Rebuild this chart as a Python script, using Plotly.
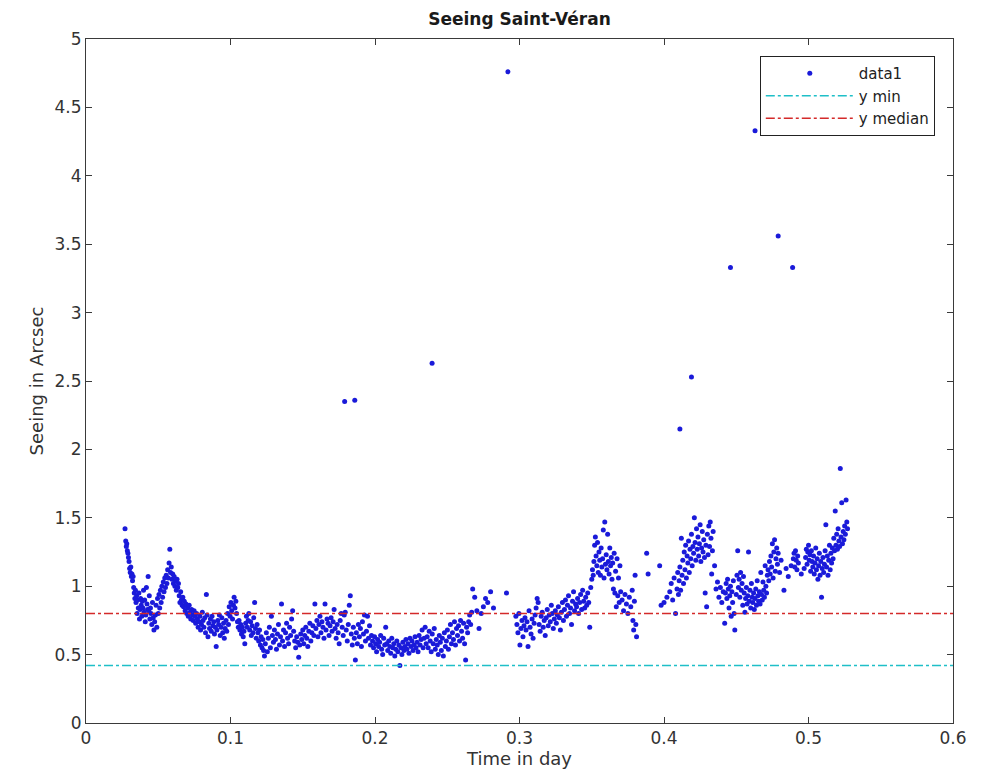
import plotly.graph_objects as go

# ---------------- data ----------------
time_a = [
    0.0270,0.0275,0.0279,0.0282,0.0286,0.0290,0.0294,0.0298,0.0302,0.0306,
    0.0310,0.0314,0.0318,0.0322,0.0326,0.0330,0.0334,0.0338,0.0342,0.0346,
    0.0350,0.0354,0.0358,0.0362,0.0366,0.0370,0.0374,0.0378,0.0382,0.0386,
    0.0390,0.0394,0.0398,0.0402,0.0406,0.0410,0.0414,0.0418,0.0422,0.0426,
    0.0430,0.0434,0.0438,0.0442,0.0446,0.0450,0.0455,0.0460,0.0465,0.0470,
    0.0475,0.0480,0.0485,0.0490,0.0495,0.0500,0.0505,0.0510,0.0515,0.0520,
    0.0525,0.0530,0.0535,0.0540,0.0545,0.0550,0.0555,0.0560,0.0565,0.0570,
    0.0575,0.0580,0.0585,0.0590,0.0595,0.0600,0.0605,0.0610,0.0615,0.0620,
    0.0625,0.0630,0.0635,0.0640,0.0645,0.0650,0.0655,0.0660,0.0665,0.0670,
]
seeing_a = [
    1.42,1.33,1.29,1.31,1.26,1.24,1.21,1.18,1.13,1.10,
    1.14,1.07,1.09,1.04,1.07,0.99,0.95,0.91,0.97,0.88,
    0.93,0.80,0.90,0.84,0.95,0.76,0.83,0.91,0.86,0.78,
    0.89,0.84,0.97,0.81,0.90,0.74,0.79,0.99,0.87,0.83,
    1.07,0.82,0.93,0.76,0.84,0.80,0.72,0.88,0.77,0.68,
    0.74,0.79,0.86,0.70,0.91,0.80,0.94,0.84,0.97,0.88,
    1.00,0.92,1.03,0.96,1.06,0.99,1.08,1.02,1.12,1.06,
    1.17,1.27,1.10,1.14,1.05,1.09,1.02,1.07,1.00,1.04,
    0.97,1.05,0.99,1.02,0.93,0.88,0.96,0.90,0.86,0.92,
]

time_b = [
    0.0675,0.0680,0.0686,0.0692,0.0697,0.0703,0.0708,0.0714,0.0720,0.0725,
    0.0731,0.0737,0.0742,0.0748,0.0754,0.0759,0.0765,0.0771,0.0776,0.0782,
    0.0788,0.0793,0.0799,0.0805,0.0810,0.0816,0.0822,0.0827,0.0833,0.0838,
    0.0844,0.0850,0.0855,0.0861,0.0867,0.0872,0.0878,0.0884,0.0889,0.0895,
    0.0901,0.0906,0.0912,0.0918,0.0923,0.0929,0.0935,0.0940,0.0946,0.0952,
    0.0957,0.0963,0.0969,0.0974,0.0980,0.0986,0.0991,0.0997,0.1003,0.1008,
    0.1014,0.1020,0.1025,0.1031,0.1037,0.1042,0.1048,0.1054,0.1059,0.1065,
    0.1071,0.1076,0.1082,0.1088,0.1093,0.1099,0.1105,0.1110,0.1116,0.1122,
    0.1127,0.1133,0.1139,0.1144,0.1150,0.1156,0.1161,0.1167,0.1173,0.1178,
    0.1184,0.1190,0.1195,0.1201,0.1207,0.1212,0.1218,0.1224,0.1229,0.1235,
]
seeing_b = [
    0.85,0.89,0.82,0.87,0.80,0.84,0.78,0.86,0.81,0.76,
    0.83,0.79,0.75,0.82,0.78,0.73,0.80,0.76,0.70,0.74,
    0.78,0.68,0.72,0.81,0.75,0.70,0.77,0.66,0.94,0.79,
    0.63,0.73,0.69,0.76,0.67,0.78,0.71,0.74,0.65,0.70,
    0.56,0.68,0.75,0.72,0.79,0.64,0.70,0.77,0.66,0.73,
    0.62,0.69,0.75,0.67,0.80,0.72,0.85,0.78,0.88,0.82,
    0.76,0.86,0.92,0.84,0.89,0.80,0.74,0.70,0.75,0.68,
    0.72,0.65,0.70,0.63,0.67,0.58,0.73,0.78,0.70,0.75,
    0.80,0.68,0.74,0.64,0.71,0.66,0.77,0.88,0.69,0.62,
    0.72,0.66,0.60,0.68,0.57,0.63,0.55,0.61,0.53,0.49,
]

time_c = [
    0.1241,0.1248,0.1255,0.1262,0.1269,0.1276,0.1283,0.1290,0.1297,0.1304,
    0.1311,0.1318,0.1325,0.1332,0.1339,0.1346,0.1353,0.1360,0.1367,0.1374,
    0.1381,0.1388,0.1395,0.1402,0.1409,0.1416,0.1423,0.1430,0.1437,0.1444,
    0.1451,0.1458,0.1465,0.1472,0.1479,0.1486,0.1493,0.1500,0.1507,0.1514,
    0.1521,0.1528,0.1535,0.1542,0.1549,0.1556,0.1563,0.1570,0.1577,0.1584,
    0.1591,0.1598,0.1605,0.1612,0.1619,0.1626,0.1633,0.1640,0.1647,0.1654,
    0.1661,0.1668,0.1675,0.1682,0.1689,0.1696,0.1703,0.1710,0.1717,0.1724,
    0.1731,0.1738,0.1745,0.1752,0.1759,0.1766,0.1773,0.1780,0.1787,0.1794,
    0.1801,0.1808,0.1815,0.1822,0.1829,0.1836,0.1843,0.1850,0.1857,0.1864,
    0.1871,0.1878,0.1885,0.1892,0.1899,0.1906,0.1913,0.1920,0.1927,0.1934,
    0.1941,0.1948,0.1955,0.1962,0.1969,0.1976,0.1983,0.1990,0.1997,0.2004,
    0.2011,0.2018,0.2025,0.2032,0.2039,0.2046,0.2053,0.2060,0.2067,0.2074,
    0.2081,0.2088,0.2095,0.2102,0.2109,0.2116,0.2123,0.2130,0.2137,0.2144,
    0.2151,0.2158,0.2165,0.2172,0.2179,0.2186,0.2193,0.2200,0.2207,0.2214,
    0.2221,0.2228,0.2235,0.2242,0.2249,0.2256,0.2263,0.2270,0.2277,0.2284,
    0.2291,0.2298,0.2305,0.2312,0.2319,0.2326,0.2333,0.2340,0.2347,0.2354,
]
seeing_c = [
    0.58,0.66,0.52,0.62,0.70,0.55,0.78,0.64,0.59,0.68,
    0.61,0.54,0.65,0.72,0.57,0.63,0.87,0.60,0.68,0.56,
    0.66,0.73,0.62,0.58,0.70,0.64,0.76,0.82,0.67,0.60,
    0.55,0.63,0.59,0.48,0.57,0.65,0.61,0.68,0.58,0.64,
    0.70,0.62,0.56,0.67,0.73,0.60,0.66,0.71,0.64,0.87,
    0.69,0.75,0.63,0.72,0.78,0.66,0.74,0.70,0.62,0.87,
    0.68,0.76,0.73,0.64,0.71,0.77,0.67,0.74,0.83,0.69,
    0.62,0.72,0.66,0.58,0.75,0.80,0.70,0.64,0.79,0.81,
    0.68,0.60,0.72,0.86,0.93,0.65,0.57,0.70,0.62,0.46,
    0.66,0.58,0.72,0.63,0.69,0.56,0.74,0.65,0.79,0.60,
    0.67,0.78,0.62,0.71,0.57,0.64,0.60,0.55,0.63,0.58,
    0.52,0.61,0.56,0.59,0.64,0.54,0.50,0.62,0.57,0.70,
    0.58,0.53,0.60,0.56,0.51,0.62,0.55,0.58,0.49,0.54,
    0.60,0.52,0.57,0.42,0.55,0.50,0.59,0.53,0.56,0.61,
    0.54,0.58,0.51,0.62,0.56,0.60,0.53,0.57,0.63,0.55,
    0.59,0.52,0.64,0.57,0.61,0.68,0.55,0.62,0.70,0.58,
]

time_d = [
    0.2361,0.2368,0.2375,0.2382,0.2389,0.2396,0.2403,0.2410,0.2417,0.2424,
    0.2431,0.2438,0.2445,0.2452,0.2459,0.2466,0.2473,0.2480,0.2487,0.2494,
    0.2501,0.2508,0.2515,0.2522,0.2529,0.2536,0.2543,0.2550,0.2557,0.2564,
    0.2571,0.2578,0.2585,0.2592,0.2599,0.2606,0.2613,0.2620,0.2627,0.2634,
    0.2641,0.2648,0.2655,0.2662,0.2669,0.2676,0.2690,0.2705,0.2720,0.2735,
    0.2750,0.2765,0.2780,0.2800,0.2820,0.2910,
]
seeing_d = [
    0.63,0.55,0.67,0.60,0.52,0.65,0.58,0.69,0.54,0.61,
    0.57,0.50,0.64,0.59,0.53,0.62,0.49,0.66,0.56,0.60,
    0.68,0.54,0.63,0.72,0.58,0.66,0.61,0.74,0.57,0.69,
    0.64,0.71,0.60,0.75,0.67,0.62,0.73,0.58,0.46,0.70,
    0.66,0.74,0.79,0.72,0.81,0.98,0.92,0.82,0.69,0.80,
    0.85,0.91,0.88,0.96,0.84,0.95,
]

time_e = [
    0.2975,0.2982,0.2989,0.2996,0.3003,0.3010,0.3017,0.3024,0.3031,0.3038,
    0.3045,0.3052,0.3059,0.3066,0.3073,0.3080,0.3087,0.3094,0.3101,0.3108,
    0.3115,0.3122,0.3129,0.3136,0.3143,0.3150,0.3157,0.3164,0.3171,0.3178,
    0.3185,0.3192,0.3199,0.3206,0.3213,0.3220,0.3227,0.3234,0.3241,0.3248,
    0.3255,0.3262,0.3269,0.3276,0.3283,0.3290,0.3297,0.3304,0.3311,0.3318,
    0.3325,0.3332,0.3339,0.3346,0.3353,0.3360,0.3367,0.3374,0.3381,0.3388,
]
seeing_e = [
    0.78,0.72,0.66,0.80,0.57,0.69,0.75,0.63,0.71,0.77,
    0.68,0.74,0.56,0.82,0.70,0.65,0.76,0.62,0.73,0.79,
    0.84,0.91,0.88,0.72,0.67,0.78,0.81,0.70,0.75,0.64,
    0.77,0.83,0.71,0.79,0.74,0.86,0.80,0.69,0.76,0.82,
    0.73,0.79,0.85,0.77,0.68,0.81,0.88,0.75,0.83,0.90,
    0.78,0.86,0.93,0.80,0.84,0.72,0.89,0.96,0.82,0.87,
]

time_f = [
    0.3395,0.3402,0.3409,0.3416,0.3423,0.3430,0.3437,0.3444,0.3451,0.3458,
    0.3465,0.3472,0.3479,0.3486,0.3493,0.3500,0.3505,0.3510,0.3515,0.3520,
    0.3525,0.3530,0.3535,0.3540,0.3545,0.3550,0.3555,0.3560,0.3565,0.3570,
    0.3575,0.3580,0.3585,0.3590,0.3595,0.3600,0.3605,0.3610,0.3615,0.3620,
    0.3625,0.3630,0.3635,0.3640,0.3645,0.3650,0.3655,0.3660,0.3665,0.3670,
    0.3675,0.3680,0.3685,0.3690,0.3695,0.3700,0.3710,0.3720,0.3730,0.3740,
    0.3750,0.3760,0.3770,0.3780,0.3785,0.3790,0.3795,0.3800,0.3805,0.3810,
    0.3880,0.3890,0.3970,0.3980,0.4000,0.4020,0.4040,0.4050,0.4060,0.4070,
    0.4080,0.4090,0.4095,0.4100,0.4105,0.4110,0.4115,0.4120,0.4125,0.4130,
    0.4135,0.4140,0.4145,0.4150,0.4155,0.4160,0.4165,0.4170,0.4175,0.4180,
    0.4185,0.4190,0.4195,0.4200,0.4205,0.4210,0.4215,0.4220,0.4225,0.4230,
    0.4235,0.4240,0.4245,0.4250,0.4255,0.4260,0.4265,0.4270,0.4275,0.4280,
    0.4285,0.4290,0.4295,0.4300,0.4305,0.4310,0.4315,0.4320,0.4325,0.4330,
    0.4335,0.4340,0.4350,0.4360,0.4370,0.4380,0.4390,0.4400,0.4410,0.4420,
]
seeing_f = [
    0.85,0.91,0.80,0.88,0.94,0.83,0.97,0.89,0.84,0.92,
    0.86,0.95,0.88,0.70,0.99,1.05,1.12,1.08,1.18,1.30,
    1.36,1.22,1.15,1.32,1.10,1.25,1.19,1.08,1.28,1.14,
    1.20,1.41,1.06,1.47,1.16,1.23,1.12,1.38,1.18,1.09,
    1.28,1.15,1.21,1.05,1.17,0.98,1.24,0.95,1.11,0.85,
    1.20,0.93,1.06,0.88,1.15,0.96,0.90,0.82,0.94,0.87,
    0.80,0.92,0.85,0.97,0.75,0.68,0.89,1.08,0.72,0.63,
    1.24,1.09,1.15,0.86,0.88,0.92,0.96,1.02,0.90,1.06,
    0.80,0.98,1.10,0.94,1.04,1.14,0.97,1.35,1.08,1.19,
    1.02,1.25,1.12,1.30,1.06,1.22,1.17,1.33,1.10,1.27,
    1.20,1.38,1.15,1.29,1.24,1.50,1.32,1.19,1.42,1.27,
    1.36,1.22,1.31,1.45,1.18,1.28,1.40,1.25,1.34,1.21,
    0.95,1.30,0.85,1.38,1.23,1.44,1.29,1.47,1.35,1.09,
    1.26,1.40,1.15,0.98,1.03,0.92,0.99,0.88,0.96,0.73,
]

time_g = [
    0.4425,0.4430,0.4435,0.4440,0.4445,0.4450,0.4455,0.4460,0.4465,0.4470,
    0.4475,0.4480,0.4485,0.4490,0.4500,0.4505,0.4510,0.4515,0.4520,0.4525,
    0.4530,0.4535,0.4540,0.4545,0.4550,0.4555,0.4560,0.4565,0.4570,0.4575,
    0.4580,0.4585,0.4590,0.4595,0.4600,0.4605,0.4610,0.4615,0.4620,0.4625,
    0.4630,0.4635,0.4640,0.4645,0.4650,0.4655,0.4660,0.4665,0.4670,0.4675,
    0.4680,0.4685,0.4690,0.4695,0.4700,0.4705,0.4710,0.4715,0.4720,0.4725,
    0.4730,0.4735,0.4740,0.4745,0.4750,0.4755,0.4760,0.4765,0.4770,0.4775,
    0.4780,0.4785,0.4790,0.4800,0.4810,0.4830,0.4845,0.4860,0.4880,0.4895,
    0.4900,0.4905,0.4910,0.4915,0.4920,0.4925,0.4930,0.4950,0.4970,0.4980,
    0.4985,0.4990,0.4995,0.5000,0.5005,0.5010,0.5015,0.5020,0.5025,0.5030,
    0.5035,0.5040,0.5045,0.5050,0.5055,0.5060,0.5065,0.5070,0.5075,0.5080,
    0.5085,0.5090,0.5095,0.5100,0.5105,0.5110,0.5115,0.5120,0.5125,0.5130,
    0.5135,0.5140,0.5145,0.5150,0.5155,0.5160,0.5165,0.5170,0.5175,0.5180,
    0.5185,0.5190,0.5195,0.5200,0.5205,0.5210,0.5215,0.5220,0.5225,0.5230,
    0.5235,0.5240,0.5245,0.5250,0.5255,0.5260,0.5265,0.5270,
]
seeing_g = [
    0.95,1.02,0.91,1.05,0.98,0.84,0.93,1.00,0.78,0.96,
    0.88,1.04,0.80,0.68,0.94,1.08,1.26,0.99,1.05,0.92,
    1.10,0.97,1.02,0.86,1.07,0.95,0.81,0.91,0.99,0.87,
    0.93,1.25,0.89,0.97,0.84,1.02,0.92,0.88,0.95,0.83,
    0.91,0.98,0.86,1.04,0.93,0.89,0.96,0.87,1.10,0.94,
    0.90,1.03,0.97,0.92,1.15,1.00,0.95,1.08,1.12,1.04,
    1.18,1.09,1.22,1.14,1.31,1.06,1.25,1.34,1.11,1.20,
    1.28,1.16,1.24,1.10,1.19,0.97,1.13,1.07,1.15,1.20,
    1.24,1.14,1.26,1.19,1.12,1.22,1.17,1.09,1.13,1.21,
    1.27,1.16,1.25,1.30,1.19,1.23,1.11,1.26,1.18,1.14,
    1.22,1.09,1.17,1.28,1.12,1.20,1.05,1.15,1.24,1.08,
    1.18,0.92,1.13,1.21,1.10,1.16,1.26,1.45,1.14,1.22,
    1.08,1.19,1.30,1.12,1.24,1.17,1.28,1.20,1.35,1.26,
    1.55,1.30,1.38,1.27,1.42,1.33,1.29,1.86,1.36,1.61,
    1.31,1.40,1.34,1.44,1.38,1.63,1.47,1.42,
]

time_outliers = [0.1790, 0.1860, 0.2395, 0.2920, 0.4110, 0.4190, 0.4460, 0.4630, 0.4790, 0.4890]
seeing_outliers = [2.35, 2.36, 2.63, 4.76, 2.15, 2.53, 3.33, 4.33, 3.56, 3.33]

y_min = 0.42
y_median = 0.80
x_span = [0.0, 0.6]

x_ticks = [0, 0.1, 0.2, 0.3, 0.4, 0.5, 0.6]
x_tick_labels = ["0", "0.1", "0.2", "0.3", "0.4", "0.5", "0.6"]
y_ticks = [0, 0.5, 1, 1.5, 2, 2.5, 3, 3.5, 4, 4.5, 5]
y_tick_labels = ["0", "0.5", "1", "1.5", "2", "2.5", "3", "3.5", "4", "4.5", "5"]

times = time_a + time_b + time_c + time_d + time_e + time_f + time_g + time_outliers
seeing = seeing_a + seeing_b + seeing_c + seeing_d + seeing_e + seeing_f + seeing_g + seeing_outliers
assert len(times) == len(seeing), (len(times), len(seeing))

# ---------------- figure ----------------
FONT = "DejaVu Sans, Liberation Sans, sans-serif"
fig = go.Figure()
fig.add_trace(go.Scatter(
    x=times, y=seeing, mode="markers", name="data1",
    marker=dict(color="#1a1ad9", size=5, line=dict(width=0)),
))
fig.add_trace(go.Scatter(
    x=x_span, y=[y_min, y_min], mode="lines", name="y min",
    line=dict(color="#1fbfc8", width=1.5, dash="dashdot"),
))
fig.add_trace(go.Scatter(
    x=x_span, y=[y_median, y_median], mode="lines", name="y median",
    line=dict(color="#d42a2a", width=1.5, dash="dashdot"),
))

axis_common = dict(
    showline=True, linecolor="#3a3a3a", linewidth=1, mirror="ticks",
    ticks="inside", ticklen=6, tickcolor="#3a3a3a", tickwidth=1,
    showgrid=False, zeroline=False,
    tickfont=dict(family=FONT, size=17, color="#333333"),
)

fig.update_layout(
    width=983, height=783,
    margin=dict(l=86, r=30, t=39, b=60),
    paper_bgcolor="white", plot_bgcolor="white",
    title=dict(text="<b>Seeing Saint-Véran</b>", x=0.5, xref="paper",
               xanchor="center",
               y=0.976, yref="container", yanchor="middle",
               font=dict(family=FONT, size=17, color="#1a1a1a")),
    xaxis=dict(range=[0, 0.6], tickvals=x_ticks, ticktext=x_tick_labels,
               title=dict(text="Time in day", standoff=2,
                          font=dict(family=FONT, size=18, color="#333333")),
               **axis_common),
    yaxis=dict(range=[0, 5], tickvals=y_ticks, ticktext=y_tick_labels,
               title=dict(text="Seeing in Arcsec", standoff=6,
                          font=dict(family=FONT, size=18, color="#333333")),
               **axis_common),
    legend=dict(x=0.979, y=0.975, xanchor="right", yanchor="top",
                bgcolor="white", bordercolor="#222222", borderwidth=1,
                font=dict(family=FONT, size=15, color="#222222"),
                tracegroupgap=0, itemwidth=88),
    showlegend=True,
)

fig.write_html("out.html")
